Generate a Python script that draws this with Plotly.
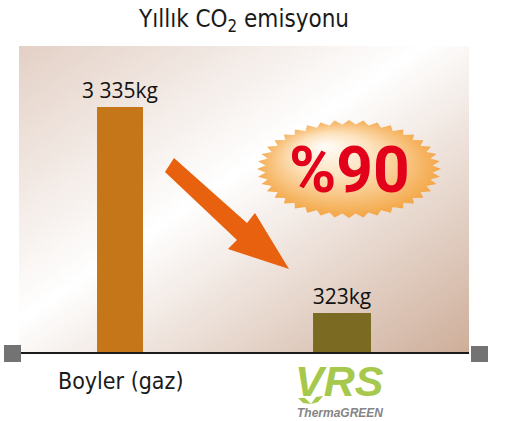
import base64
import math
import plotly.graph_objects as go

# data
categories = ["Boyler (gaz)", "VRS ThermaGREEN"]
emissions = [3335, 323]          # kg CO2 per year
bar_colors = ["#c47618", "#7b6a22"]
bar_widths = [0.207, 0.261]
saving_label = "%90"

# plot area in pixels (used for decorations only)
L, R, T, B = 19, 469, 46, 352


def px(x):
    return (x - L) / (R - L)


def py(y):
    return (B - y) / (B - T)


# background gradient + starburst as an svg image under the plot
pts = []
n = 40
cx, cy, rx, ry = 330, 123, 92, 49
for i in range(2 * n):
    a = math.pi * i / n
    k = 1.0 if i % 2 == 0 else 0.91
    pts.append("%.1f,%.1f" % (cx + k * rx * math.cos(a), cy + k * ry * math.sin(a)))

svg = f"""<svg xmlns="http://www.w3.org/2000/svg" width="450" height="306" viewBox="0 0 450 306" preserveAspectRatio="none">
<defs>
<linearGradient id="bg" x1="0" y1="0" x2="1" y2="1">
<stop offset="0" stop-color="#e3d0c5"/>
<stop offset="0.45" stop-color="#ffffff"/>
<stop offset="1" stop-color="#ceae9a"/>
</linearGradient>
<radialGradient id="burst" cx="0.5" cy="0.5" r="0.55" fx="0.36" fy="0.26">
<stop offset="0" stop-color="#fffdf9"/>
<stop offset="0.4" stop-color="#fde2bd"/>
<stop offset="1" stop-color="#f29e35"/>
</radialGradient>
</defs>
<rect width="450" height="306" fill="url(#bg)"/>
<polygon points="{' '.join(pts)}" fill="url(#burst)"/>
</svg>"""
svg_uri = "data:image/svg+xml;base64," + base64.b64encode(svg.encode()).decode()

fig = go.Figure()
fig.add_trace(go.Bar(
    x=categories,
    y=emissions,
    width=bar_widths,
    marker=dict(color=bar_colors, line=dict(width=0)),
    texttemplate="%{y:,.0f}kg",
    textposition="outside",
    constraintext="none",
    textfont=dict(family="Open Sans", size=21, color="#111111"),
    hoverinfo="skip",
))

# big arrow
arrow = [(165, 172), (174, 158), (247, 223), (255, 213), (289, 269), (228, 249), (237, 240)]
arrow_path = "M " + " L ".join("%.4f,%.4f" % (px(x), py(y)) for x, y in arrow) + " Z"

# little sprout above ThermaGREEN
leaf1 = [(311, 404), (305, 398), (298, 398), (303, 403)]
leaf2 = [(311, 404), (316, 397), (323, 396), (318, 402)]


def leaf_path(p):
    return "M " + " L ".join("%.4f,%.4f" % (px(x), py(y)) for x, y in p) + " Z"


shapes = [
    dict(type="path", path=arrow_path, xref="paper", yref="paper",
         fillcolor="#e8610f", line=dict(width=0)),
    dict(type="rect", xref="paper", yref="paper", x0=px(4), x1=px(21), y0=py(345), y1=py(362),
         fillcolor="#737373", line=dict(width=0)),
    dict(type="rect", xref="paper", yref="paper", x0=px(471), x1=px(488), y0=py(346), y1=py(362),
         fillcolor="#737373", line=dict(width=0)),
    dict(type="path", path=leaf_path(leaf1), xref="paper", yref="paper",
         fillcolor="#a6c84c", line=dict(width=0)),
    dict(type="path", path=leaf_path(leaf2), xref="paper", yref="paper",
         fillcolor="#a6c84c", line=dict(width=0)),
]

annotations = [
    dict(text="<b>" + saving_label + "</b>", x=px(349), y=py(170), xref="paper", yref="paper",
         showarrow=False, font=dict(family="Roboto", size=64, color="#e2001a"),
         xanchor="center", yanchor="middle"),
    dict(text=categories[0], x=categories[0], y=py(381), xref="x", yref="paper",
         showarrow=False, font=dict(family="DejaVu Sans Condensed", size=23, color="#1a1a1a"),
         xanchor="center", yanchor="middle"),
    dict(text="<b><i>VRS</i></b>", x=categories[1], y=py(380.5), xref="x", yref="paper", xshift=-3,
         showarrow=False, borderpad=0, font=dict(family="Liberation Sans", size=43, color="#a6c84c"),
         xanchor="center", yanchor="middle"),
    dict(text="<b><i>ThermaGREEN</i></b>", x=categories[1], y=py(413.2), xref="x", yref="paper", xshift=-2,
         showarrow=False, borderpad=0, font=dict(family="Liberation Sans", size=12, color="#858585"),
         xanchor="center", yanchor="middle"),
]

fig.update_layout(
    width=511,
    height=421,
    margin=dict(l=L, r=511 - R, t=T, b=421 - B, pad=0),
    paper_bgcolor="white",
    plot_bgcolor="rgba(0,0,0,0)",
    separators=". ",
    showlegend=False,
    title=dict(text="Yıllık CO<sub>2</sub> emisyonu", x=0.5, xref="paper", xanchor="center",
               y=0.955, yref="container", yanchor="middle",
               font=dict(family="DejaVu Sans Condensed", size=24, color="#1a1a1a")),
    xaxis=dict(type="category", range=[-0.455, 1.572], showticklabels=False, ticks="",
               showgrid=False, zeroline=False, showline=True, linecolor="#1a1a1a", linewidth=2,
               fixedrange=True),
    yaxis=dict(type="log", range=[2.317, 3.823], visible=False, showgrid=False, fixedrange=True),
    images=[dict(source=svg_uri, xref="paper", yref="paper", x=0, y=1, sizex=1, sizey=1,
                 xanchor="left", yanchor="top", sizing="stretch", layer="below")],
    shapes=shapes,
    annotations=annotations,
)

# the page has a default 8px body margin; drop it so the figure fills the window
fig.write_html("out.html", config={"displayModeBar": False},
               post_script="document.body.style.margin='0';")
